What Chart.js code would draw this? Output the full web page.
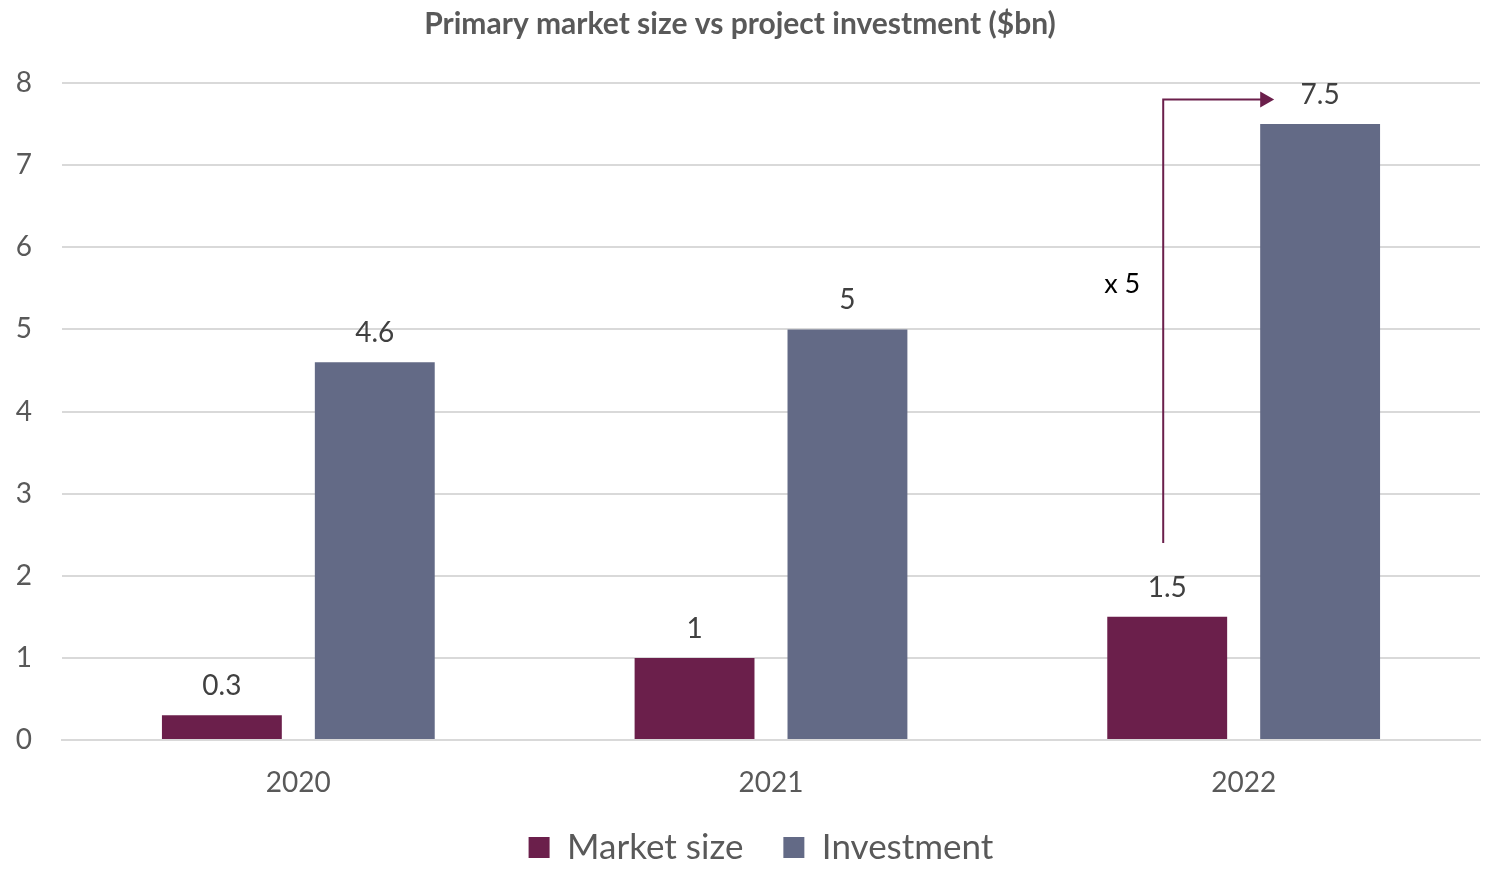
<!DOCTYPE html>
<html>
<head>
<meta charset="utf-8">
<script src="https://cdn.jsdelivr.net/npm/chart.js@4"></script>
<style>
  html, body { margin: 0; padding: 0; background: #fff; }
  #wrap { width: 1485px; height: 872px; }
</style>
</head>
<body>
<div id="wrap"><canvas id="marketChart"></canvas></div>
<script>
// Chart data
const years = ["2020", "2021", "2022"];
const marketSize = [0.3, 1, 1.5];
const investment = [4.6, 5, 7.5];
const yTicks = [0, 1, 2, 3, 4, 5, 6, 7, 8];

// "x 5" growth annotation (values on the y axis)
const growthLabel = "x 5";
const arrowFrom = 2.4;
const arrowTo = 7.8;
const labelAt = 5.55;

const FONT = "Lato, 'Open Sans', sans-serif";

// Draws value labels above each bar
const barLabels = {
    id: "barLabels",
    afterDatasetsDraw(chart) {
        const ctx = chart.ctx;
        ctx.save();
        ctx.font = "28px " + FONT;
        ctx.fillStyle = "#404040";
        ctx.textAlign = "center";
        ctx.textBaseline = "bottom";
        chart.data.datasets.forEach((ds, i) => {
            chart.getDatasetMeta(i).data.forEach((bar, j) => {
                ctx.fillText(String(ds.data[j]), bar.x, bar.y - 15);
            });
        });
        ctx.restore();
    },
};

// Draws the elbow arrow from the 2022 market bar to the investment label
const growthArrow = {
    id: "growthArrow",
    afterDatasetsDraw(chart) {
        const ctx = chart.ctx;
        const y = chart.scales.y;
        const mBar = chart.getDatasetMeta(0).data[2];
        const iBar = chart.getDatasetMeta(1).data[2];
        const x0 = mBar.x - 4;
        const y0 = y.getPixelForValue(arrowFrom);
        const y1 = y.getPixelForValue(arrowTo);
        const x1 = iBar.x - iBar.width / 2 + 14;
        ctx.save();
        ctx.strokeStyle = "#6B1F4B";
        ctx.fillStyle = "#6B1F4B";
        ctx.lineWidth = 2;
        ctx.beginPath();
        ctx.moveTo(x0, y0);
        ctx.lineTo(x0, y1);
        ctx.lineTo(x1 - 12, y1);
        ctx.stroke();
        ctx.beginPath();
        ctx.moveTo(x1, y1);
        ctx.lineTo(x1 - 14, y1 - 8);
        ctx.lineTo(x1 - 14, y1 + 8);
        ctx.closePath();
        ctx.fill();
        ctx.font = "27px " + FONT;
        ctx.fillStyle = "#000";
        ctx.textAlign = "center";
        ctx.textBaseline = "middle";
        ctx.fillText(growthLabel, x0 - 41, y.getPixelForValue(labelAt));
        ctx.restore();
    },
};

// Legend needs wide gaps between items but a shorter box
const legendHeight = {
    id: "legendHeight",
    afterInit(chart) {
        const legend = chart.legend;
        const fit = legend.fit;
        const draw = legend.draw;
        legend.fit = function () {
            fit.call(this);
            this.height = 70;
        };
        legend.draw = function () {
            this.ctx.save();
            this.ctx.translate(21, -12);
            draw.call(this);
            this.ctx.restore();
        };
    },
};

const canvas = document.getElementById("marketChart").getContext("2d");
const marketChart = new Chart(canvas, {
    type: "bar",
    data: {
        labels: years,
        datasets: [
            {
                label: "Market size",
                data: marketSize,
                backgroundColor: "#6B1F4B",
                categoryPercentage: 0.647,
                barPercentage: 0.784,
            },
            {
                label: "Investment",
                data: investment,
                backgroundColor: "#636A86",
                categoryPercentage: 0.647,
                barPercentage: 0.784,
            },
        ],
    },
    options: {
        responsive: true,
        maintainAspectRatio: false,
        animation: false,
        layout: { padding: { left: 0, right: 5, top: 0, bottom: 0 } },
        plugins: {
            title: {
                display: true,
                text: "Primary market size vs project investment ($bn)",
                color: "#595959",
                font: { family: FONT, size: 30, weight: "bold" },
                padding: { top: 6, bottom: 41 },
            },
            legend: {
                position: "bottom",
                labels: {
                    color: "#595959",
                    font: { family: FONT, size: 35 },
                    boxWidth: 21,
                    boxHeight: 21,
                    padding: 40,
                },
            },
            tooltip: { enabled: false },
        },
        scales: {
            x: {
                grid: { display: false, drawTicks: false },
                border: { color: "#d9d9d9", width: 2 },
                afterFit(axis) {
                    axis.height = 62;
                },
                ticks: {
                    color: "#595959",
                    font: { family: FONT, size: 28 },
                    padding: 26,
                },
            },
            y: {
                min: 0,
                max: 8,
                afterBuildTicks(axis) {
                    axis.ticks = yTicks.map((v) => ({ value: v }));
                },
                afterFit(axis) {
                    axis.width = 62;
                },
                border: { display: false },
                grid: { color: "#d9d9d9", lineWidth: 2, drawTicks: false },
                ticks: {
                    color: "#595959",
                    font: { family: FONT, size: 28 },
                    padding: 30,
                },
            },
        },
    },
    plugins: [barLabels, growthArrow, legendHeight],
});
</script>
</body>
</html>
